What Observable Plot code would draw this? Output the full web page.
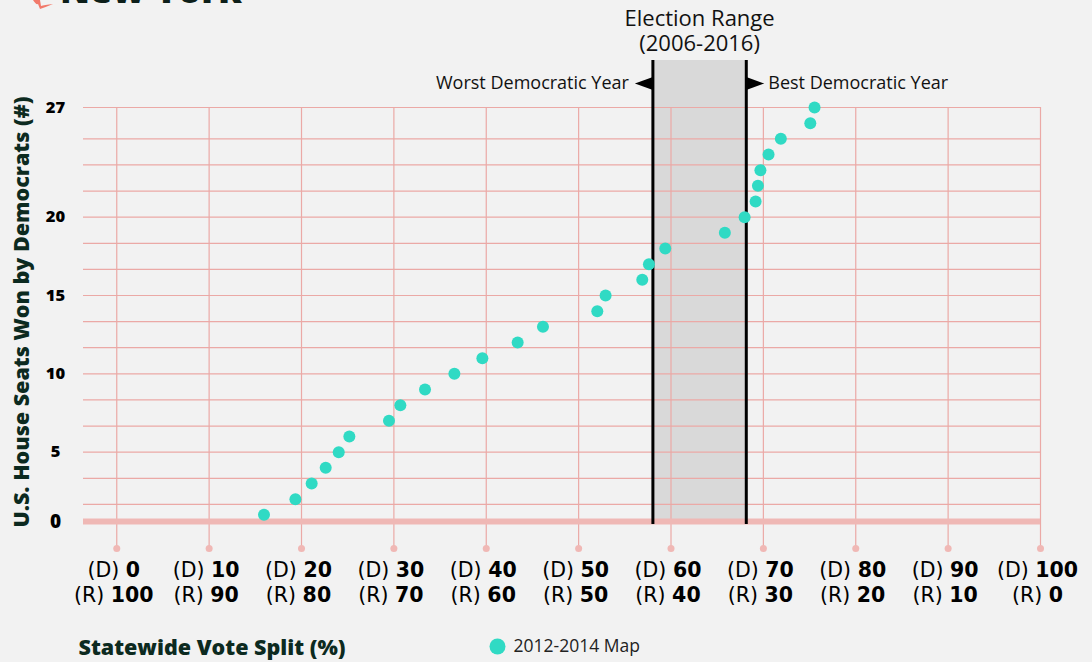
<!DOCTYPE html>
<html>
<head>
<meta charset="utf-8">
<script src="https://cdn.jsdelivr.net/npm/d3@7"></script>
<script src="https://cdn.jsdelivr.net/npm/@observablehq/plot@0.6"></script>
<style>
  html, body { margin: 0; padding: 0; background: #f2f2f2; }
  body { width: 1092px; height: 662px; overflow: hidden; position: relative; font-family: "Open Sans", sans-serif; }
  #title { position: absolute; left: 60px; top: -28px; font: 800 36px "Open Sans", sans-serif; line-height: 36px; color: #0d1f1a; white-space: nowrap; }
  #icon { position: absolute; left: 30px; top: 0; }
  #chart { position: absolute; left: 0; top: 0; }
</style>
</head>
<body>
<svg id="icon" width="26" height="12" viewBox="0 0 26 12"><path d="M3 0 Q6 5 8 4 L10 9 Q16 7 23 4 Q14 5 11 6 L10 0 Z" fill="#f27a6b"/></svg>
<div id="title">New York</div>
<div id="chart"></div>
<script>
// ---- data ----
const voteSplitD = [15.94, 19.34, 21.10, 22.62, 24.03, 25.18, 29.47, 30.70, 33.37, 36.55, 39.58, 43.40, 46.14, 52.02, 52.92, 56.89, 57.61, 59.38, 65.83, 67.97, 69.16, 69.41, 69.68, 70.56, 71.89, 75.08, 75.54];
const seatsWon   = [1, 2, 3, 4, 5, 6, 7, 8, 9, 10, 11, 12, 13, 14, 15, 16, 17, 18, 19, 20, 21, 22, 23, 24, 25, 26, 27];
const seriesName = "2012-2014 Map";
const electionRange = [{lo: 58.04, hi: 68.15}];
const xTicks      = [0, 10, 20, 30, 40, 50, 60, 70, 80, 90, 100];
const dTickLabels = [0, 10, 20, 30, 40, 50, 60, 70, 80, 90, 100];
const rTickLabels = [100, 90, 80, 70, 60, 50, 40, 30, 20, 10, 0];
const yTicks      = [5, 10, 15, 20, 27];
const yGrid       = [1.667, 3.333, 5, 6.667, 8.333, 10, 11.667, 13.333, 15, 16.667, 18.333, 20, 21.667, 23.333, 25, 27];

const teal = "#30dac4";
const gridColor = "#eba9a6";
const darkGreen = "#0c2a20";
const textFont = "'Open Sans', sans-serif";
const tickFont = "'DejaVu Sans', sans-serif";

const points = voteSplitD.map((x, i) => ({x, y: seatsWon[i]}));
const xt = xTicks.map((x, i) => ({x, d: `(D) ${dTickLabels[i]}`, r: `(R) ${rTickLabels[i]}`}));

const arrowLeft = {draw(ctx) { ctx.moveTo(-18, 0); ctx.lineTo(0, -6.5); ctx.lineTo(0, 6.5); ctx.closePath(); }};
const arrowRight = {draw(ctx) { ctx.moveTo(18, 0); ctx.lineTo(0, -6.5); ctx.lineTo(0, 6.5); ctx.closePath(); }};

const chart = Plot.plot({
  width: 1092,
  height: 662,
  marginLeft: 83,
  marginRight: 52,
  marginTop: 107,
  marginBottom: 132,
  x: {domain: [-3.6, 100], axis: null},
  y: {domain: [0, 27], axis: null},
  style: {background: "transparent", fontFamily: textFont, overflow: "visible"},
  marks: [
    Plot.rect(electionRange, {x1: "lo", x2: "hi", y1: 0, y2: 27, insetTop: -47, insetBottom: 6, fill: "#d9d9d9"}),
    Plot.ruleY(yGrid, {stroke: gridColor, strokeWidth: 1.2}),
    Plot.ruleX(xTicks, {y1: 27, y2: 0, insetBottom: -18, stroke: gridColor, strokeWidth: 1.2}),
    Plot.dot(xTicks, {x: d => d, frameAnchor: "bottom", dy: 18, r: 3.5, fill: "#f0b8b5"}),
    Plot.ruleY([0], {dy: -9, stroke: "#efb8b5", strokeWidth: 6}),
    Plot.ruleX(electionRange, {x: "lo", y1: 27, y2: 0, insetTop: -47, insetBottom: 6, stroke: "#000", strokeWidth: 3}),
    Plot.ruleX(electionRange, {x: "hi", y1: 27, y2: 0, insetTop: -47, insetBottom: 6, stroke: "#000", strokeWidth: 3}),
    Plot.dot(electionRange, {x: "lo", frameAnchor: "top", dy: -24, symbol: arrowLeft, fill: "#000", stroke: null}),
    Plot.dot(electionRange, {x: "hi", frameAnchor: "top", dy: -24, symbol: arrowRight, fill: "#000", stroke: null}),
    Plot.text(electionRange, {x: "lo", frameAnchor: "top", lineAnchor: "middle", dy: -24, dx: -24, text: () => "Worst Democratic Year", textAnchor: "end", fontSize: 18, fill: "#111"}),
    Plot.text(electionRange, {x: "hi", frameAnchor: "top", lineAnchor: "middle", dy: -24, dx: 22, text: () => "Best Democratic Year", textAnchor: "start", fontSize: 18, fill: "#111"}),
    Plot.text(electionRange, {x: d => (d.lo + d.hi) / 2, frameAnchor: "top", lineAnchor: "middle", dy: -77, text: () => "Election Range\n(2006-2016)", lineHeight: 1.15, fontSize: 22, fill: "#111"}),
    Plot.dot(points, {x: "x", y: "y", r: 6, fill: teal}),
    // y tick labels
    Plot.text(yTicks, {y: d => d, frameAnchor: "left", dx: -28, text: d => String(d), textAnchor: "middle", fontSize: 16.5, fontWeight: 800, fill: "#000"}),
    Plot.text([0], {y: d => d, frameAnchor: "left", dx: -28, dy: -9, text: d => String(d), textAnchor: "middle", fontSize: 19, fontWeight: 800, fill: "#000"}),
    // x tick labels
    Plot.text(xt, {x: "x", frameAnchor: "bottom", lineAnchor: "middle", dy: 40, dx: -3, text: "d", fontSize: 20.5, fontFamily: tickFont, fill: "#000"}),
    Plot.text(xt, {x: "x", frameAnchor: "bottom", lineAnchor: "middle", dy: 65, dx: -3, text: "r", fontSize: 20.5, fontFamily: tickFont, fill: "#000"}),
    // axis titles
    Plot.text(["U.S. House Seats Won by Democrats (#)"], {frameAnchor: "left", dx: -61, dy: -7, rotate: -90, text: d => d, textAnchor: "middle", fontSize: 21.5, fontWeight: 800, fill: darkGreen}),
    Plot.text(["Statewide Vote Split (%)"], {frameAnchor: "bottom-left", lineAnchor: "middle", dx: -5, dy: 118, text: d => d, textAnchor: "start", fontSize: 21.5, fontWeight: 800, fill: darkGreen}),
    // legend
    Plot.dot([seriesName], {frameAnchor: "bottom-left", dx: 414, dy: 116, r: 8, fill: teal}),
    Plot.text([seriesName], {frameAnchor: "bottom-left", lineAnchor: "middle", dx: 430, dy: 116, text: d => d, textAnchor: "start", fontSize: 17.5, fill: "#222"})
  ]
});

// mixed-weight tick labels: "(D)" regular, number bold
d3.select(chart).selectAll("text").each(function() {
  const el = this;
  if (el.children.length) return;
  const m = /^\(([DR])\) (\d+)$/.exec(el.textContent);
  if (!m) return;
  el.textContent = "";
  d3.select(el).append("tspan").text(`(${m[1]}) `).attr("font-weight", 400);
  d3.select(el).append("tspan").text(m[2]).attr("font-weight", 700);
});

document.getElementById("chart").append(chart);
</script>
</body>
</html>
